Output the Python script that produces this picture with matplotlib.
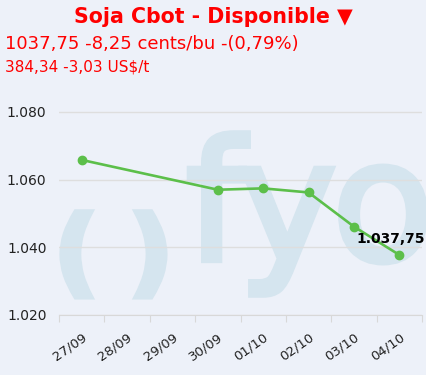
import numpy as np
import matplotlib.pyplot as plt
import matplotlib.patheffects as pe

# data (cents/bu, shown /1000 on the axis)
day_index = [0, 3, 4, 5, 6, 7]          # 27/09, 30/09, 01/10, 02/10, 03/10, 04/10
prices = [1.0658, 1.0570, 1.0574, 1.0562, 1.0461, 1.03775]
tick_labels = ['27/09', '28/09', '29/09', '30/09', '01/10', '02/10', '03/10', '04/10']
y_ticks = [1.020, 1.040, 1.060, 1.080]
y_labels = ['1.020', '1.040', '1.060', '1.080']
last_label = '1.037,75'

bg = '#edf1f9'
red = '#ff0000'
green = '#5cbf4a'
wm = '#d5e5ef'

W, H = 426, 375
fig = plt.figure(figsize=(W / 100, H / 100), dpi=100, facecolor=bg)
ax = fig.add_axes([59 / W, 1 - 315 / H, (422 - 59) / W, (315 - 78) / H])
ax.set_facecolor('none')
ax.set_zorder(2)

# watermark "( ) fyo"
def px(x, y):
    return x / W, 1 - y / H
thick = [pe.withStroke(linewidth=4.5, foreground=wm, joinstyle='miter', capstyle='butt')]
for ch, (xx, yy) in zip('fyo', [(186, 260), (238, 260), (332, 260)]):
    fig.text(*px(xx, yy), ch, color=wm, fontsize=120, ha='left', va='baseline', zorder=0,
             path_effects=thick)
fig.text(*px(76, 258), '(', color=wm, fontsize=68, fontweight='bold', ha='center', va='center',
         zorder=0, path_effects=thick)
fig.text(*px(151, 258), ')', color=wm, fontsize=68, fontweight='bold', ha='center', va='center',
         zorder=0, path_effects=thick)

# points sit in the middle of each day slot
x = [d + 0.5 for d in day_index]
ax.plot(x, prices, color=green, lw=1.9, marker='o', ms=6, zorder=3)
ax.annotate(last_label, (x[-1], prices[-1]), xytext=(-43, 12), textcoords='offset pixels',
            fontsize=10, fontweight='bold', color='black', zorder=4)

ax.set_xlim(0, 8)
ax.set_ylim(1.020, 1.090)
ax.set_yticks(y_ticks)
ax.set_yticklabels(y_labels)
ax.set_xticks(np.arange(9))
ax.set_xticklabels([])
ax.set_xticks(np.arange(8) + 0.5, minor=True)
ax.set_xticklabels(tick_labels, minor=True, rotation=35, ha='right', rotation_mode='anchor')
ax.tick_params(axis='y', length=0, pad=9, labelsize=10, colors='#222222')
ax.tick_params(axis='x', which='major', length=5, color='#d8d8d8')
ax.tick_params(axis='x', which='minor', length=0, pad=11, labelsize=9.5, colors='#222222')
ax.grid(axis='y', color='#dedede', lw=1)
for s in ['top', 'right', 'left']:
    ax.spines[s].set_visible(False)
ax.spines['bottom'].set_color('#d8d8d8')

fig.text(0.5, 1 - 17 / H, 'Soja Cbot - Disponible \u25bc', color=red, fontsize=14.8,
         fontweight='bold', ha='center', va='center')
fig.text(5 / W, 1 - 44 / H, '1037,75 -8,25 cents/bu -(0,79%)', color=red, fontsize=13, va='center')
fig.text(5 / W, 1 - 67 / H, '384,34 -3,03 US$/t', color=red, fontsize=11, va='center')

plt.savefig('out.png', dpi=100, facecolor=bg)
